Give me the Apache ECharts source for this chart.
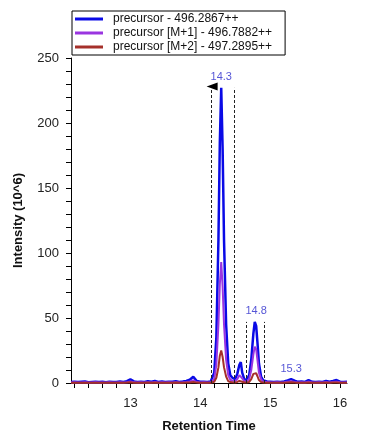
<!DOCTYPE html>
<html>
<head>
<meta charset="utf-8">
<script src="https://cdn.jsdelivr.net/npm/echarts@6/dist/echarts.min.js"></script>
<style>
html, body { margin: 0; padding: 0; background: #fff; }
#main { width: 367px; height: 444px; }
</style>
</head>
<body>
<div id="main"></div>
<script>
// retention times (min)
var times = [
    12.15,12.2,12.25,12.3,12.35,12.4,12.45,12.5,12.55,12.6,
    12.65,12.7,12.75,12.8,12.85,12.9,12.95,13.0,13.05,13.1,
    13.15,13.2,13.25,13.3,13.35,13.4,13.45,13.5,13.55,13.6,
    13.65,13.7,13.75,13.8,13.85,13.9,13.95,14.0,14.05,14.1,
    14.15,
    14.2,14.23,14.26,14.28,14.3,14.32,14.34,14.37,14.4,14.43,
    14.46,14.5,14.53,14.56,14.58,14.6,14.63,14.66,14.7,14.73,
    14.76,14.78,14.8,14.82,14.84,14.87,14.9,14.93,14.96,
    15.0,15.05,15.1,15.15,15.2,15.25,15.3,15.35,15.4,15.45,
    15.5,15.55,15.6,15.65,15.7,15.75,15.8,15.85,15.9,15.95,
    16.0,16.05,16.1
];
// intensities (10^6)
var precursor = [
    0.8,1.0,0.7,0.9,1.1,0.6,0.8,1.0,0.7,0.9,
    0.6,1.0,0.8,0.7,1.1,0.8,1.4,2.8,1.2,0.8,
    1.0,0.7,1.3,0.9,1.5,0.8,1.2,0.7,1.0,0.9,
    1.3,0.8,1.1,1.6,2.5,4.8,1.5,0.9,1.0,0.8,
    1.2,
    8,35,110,185,227,180,110,45,15,6,
    4,3,7,14,16,8,3,2,6,18,
    38,47,44,30,15,5,2,1.5,1.0,
    1.0,0.8,1.0,0.7,1.2,2.0,3.0,1.8,0.9,1.1,
    0.8,2.2,0.9,0.7,1.0,0.8,1.6,0.9,1.5,2.3,
    1.0,0.8,0.9
];
var precursorM1 = [
    0.4,0.5,0.3,0.4,0.5,0.3,0.4,0.5,0.3,0.4,
    0.3,0.5,0.4,0.3,0.5,0.4,0.6,1.2,0.5,0.4,
    0.5,0.3,0.6,0.4,0.7,0.4,0.5,0.3,0.5,0.4,
    0.6,0.4,0.5,0.7,1.1,2.0,0.7,0.4,0.5,0.4,
    0.5,
    3,14,45,76,93,74,45,18,6,2.5,
    1.8,1.5,3,6,7,3.5,1.5,1,3,10,
    22,28,26,17,8,3,1,0.8,0.6,
    0.5,0.4,0.5,0.3,0.5,0.9,1.3,0.8,0.4,0.5,
    0.4,1.0,0.4,0.3,0.5,0.4,0.7,0.4,0.7,1.0,
    0.5,0.4,0.4
];
var precursorM2 = [
    0.2,0.2,0.1,0.2,0.2,0.1,0.2,0.2,0.1,0.2,
    0.1,0.2,0.2,0.1,0.2,0.2,0.3,0.5,0.2,0.2,
    0.2,0.1,0.3,0.2,0.3,0.2,0.2,0.1,0.2,0.2,
    0.3,0.2,0.2,0.3,0.4,0.8,0.3,0.2,0.2,0.2,
    0.2,
    1,4,12,21,25,20,12,5,1.5,0.7,
    0.5,0.4,0.8,1.6,2,1,0.4,0.3,0.8,3,
    7,8,7.5,5,2.3,0.8,0.3,0.2,0.2,
    0.2,0.2,0.2,0.1,0.2,0.4,0.5,0.3,0.2,0.2,
    0.2,0.4,0.2,0.1,0.2,0.2,0.3,0.2,0.3,0.4,
    0.2,0.2,0.2
];
var seriesNames = ['precursor - 496.2867++', 'precursor [M+1] - 496.7882++', 'precursor [M+2] - 497.2895++'];
var seriesColors = ['#0a0ae6', '#9a35e0', '#a5302a'];
// picked peaks: [rt, apex]
var peaks = [[14.3, 227], [14.8, 47], [15.3, 3]];
// integration boundaries: [start, end, height]
var peakBounds = [[14.16, 14.48, 227], [14.66, 14.92, 47]];
var xLabels = [13, 14, 15, 16];
var xTicks = [];
for (var t = 12.2; t < 16.05; t += 0.2) xTicks.push(Math.round(t * 10) / 10);

var chart = echarts.init(document.getElementById('main'));

function pairs(ys) {
    return times.map(function (x, i) { return [x, ys[i]]; });
}

var boundLines = [];
peakBounds.forEach(function (b) {
    boundLines.push([{ coord: [b[0], 0] }, { coord: [b[0], b[2]] }]);
    boundLines.push([{ coord: [b[1], 0] }, { coord: [b[1], b[2]] }]);
});

var font = 'Arial, "Liberation Sans", sans-serif';

option = {
    animation: false,
    textStyle: { fontFamily: font },
    grid: { left: 71, right: 20, top: 58, bottom: 61 },
    legend: {
        data: seriesNames,
        orient: 'vertical',
        left: 72,
        top: 11,
        itemGap: 2,
        itemWidth: 28,
        itemHeight: 3,
        icon: 'rect',
        borderColor: '#000',
        borderWidth: 1,
        padding: [2, 13, 2, 3],
        textStyle: { fontSize: 12, color: '#111', fontFamily: font, padding: [0, 0, 0, 5] }
    },
    xAxis: {
        type: 'value',
        min: 12.15,
        max: 16.1,
        name: 'Retention Time',
        nameLocation: 'middle',
        nameGap: 37,
        nameTextStyle: { fontSize: 13, fontWeight: 'bold', color: '#111' },
        axisLine: { lineStyle: { color: '#000' } },
        axisTick: { customValues: xTicks, length: 5, lineStyle: { color: '#000' } },
        axisLabel: { customValues: xLabels, fontSize: 13, color: '#222', margin: 14 },
        splitLine: { show: false }
    },
    yAxis: {
        type: 'value',
        min: 0,
        max: 250,
        interval: 50,
        name: 'Intensity (10^6)',
        nameLocation: 'middle',
        nameGap: 46,
        nameTextStyle: { fontSize: 13, fontWeight: 'bold', color: '#111' },
        axisLine: { show: true, lineStyle: { color: '#000' } },
        axisTick: { show: true, length: 5, lineStyle: { color: '#000' } },
        minorTick: { show: true, splitNumber: 5, length: 5, lineStyle: { color: '#000' } },
        axisLabel: { fontSize: 13, color: '#222', margin: 12 },
        splitLine: { show: false }
    },
    series: [
        {
            name: seriesNames[0],
            type: 'line',
            data: pairs(precursor),
            symbol: 'none',
            color: seriesColors[0],
            lineStyle: { width: 2.5 },
            markLine: {
                silent: true,
                symbol: 'none',
                label: { show: false },
                lineStyle: { type: [3, 2], color: '#222', width: 1 },
                data: boundLines
            },
            markPoint: {
                silent: true,
                symbol: 'triangle',
                symbolRotate: 90,
                symbolSize: [8, 11],
                itemStyle: { color: '#000' },
                label: { show: false },
                data: [{ coord: [14.17, 228] }]
            }
        },
        {
            name: seriesNames[1],
            type: 'line',
            data: pairs(precursorM1),
            symbol: 'none',
            color: seriesColors[1],
            lineStyle: { width: 2 }
        },
        {
            name: seriesNames[2],
            type: 'line',
            data: pairs(precursorM2),
            symbol: 'none',
            color: seriesColors[2],
            lineStyle: { width: 2 }
        },
        {
            name: 'peaks',
            type: 'scatter',
            data: peaks,
            symbolSize: 0,
            silent: true,
            label: {
                show: true,
                position: 'top',
                distance: 5,
                fontSize: 11,
                color: '#2a2acc',
                formatter: function (p) { return p.value[0].toFixed(1); }
            }
        }
    ]
};
chart.setOption(option);
</script>
</body>
</html>
